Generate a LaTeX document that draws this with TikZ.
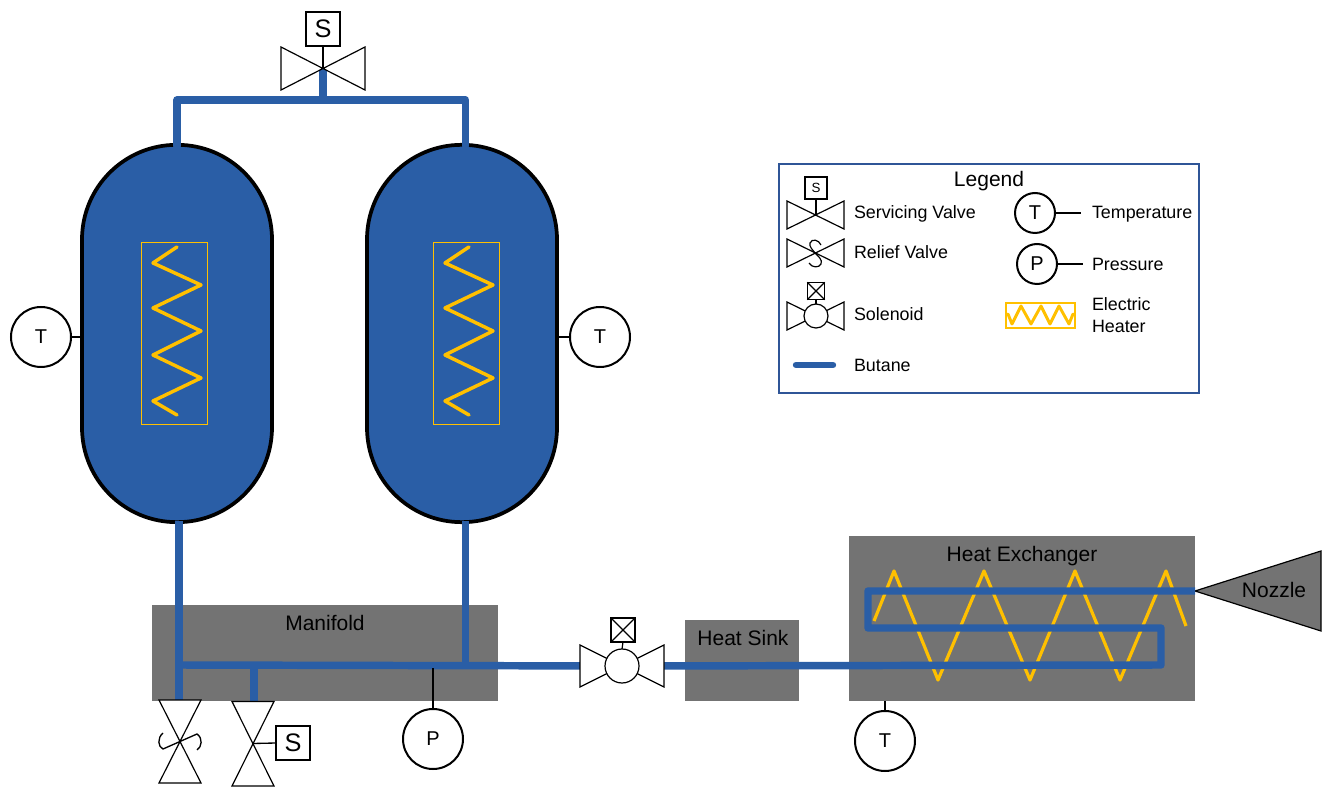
\documentclass[tikz,border=0pt]{standalone}
\usepackage{fontspec}
\setmainfont{Liberation Sans}
\usepackage{tikz}
\usetikzlibrary{arrows,shapes,positioning}
\definecolor{butane}{HTML}{2A5EA6}
\definecolor{metal}{HTML}{737373}
\definecolor{coil}{HTML}{FFC000}
\definecolor{frame}{HTML}{2F5597}

\begin{document}
\begin{tikzpicture}
	[x=0.75pt, y=-0.75pt,
	every node/.style={inner sep=0, outer sep=0},
	big/.style={font=\fontsize{15.75}{18}\selectfont},
	small/.style={font=\fontsize{13.4}{16}\selectfont, anchor=west},
	tank/.style={draw=black, line width=2.8pt, fill=butane, rounded corners=71pt, minimum width=142.5pt, minimum height=283pt},
	heater/.style={draw=coil, line width=0.75pt, minimum width=49.5pt, minimum height=136pt},
	zigzag/.style={draw=coil, line width=2.6pt, line cap=round, line join=round},
	block/.style={fill=metal},
	pipe/.style={draw=butane, line width=5.6pt, line join=round},
	sensor/.style={circle, draw, line width=1.5pt, fill=white, minimum size=45pt, font=\fontsize{15}{18}\selectfont},
	minisensor/.style={circle, draw, line width=1.5pt, fill=white, minimum size=30pt, font=\fontsize{15}{18}\selectfont},
	valve/.style={draw, line width=0.9pt, fill=white, line join=miter},
	sbox/.style={rectangle, draw, line width=0.9pt, fill=white, minimum size=25.5pt, font=\fontsize{19}{22}\selectfont},
	wire/.style={draw, line width=1pt},
	]
	\useasboundingbox (0,0) rectangle (1325,787);

	\node[block, minimum width=259.5pt, minimum height=72pt] (Manifold) at (325,653) {};
	\node[block, minimum width=85.5pt, minimum height=60.75pt] (Sink) at (742,660.5) {};
	\node[block, minimum width=259.5pt, minimum height=123.75pt] (Exchanger) at (1022,618.5) {};

	\node[tank] (Tank1) at (177,333.5) {};
	\node[tank] (Tank2) at (462,333.5) {};
	\node[heater] (Heater1) at (174,333.5) {};
	\node[heater] (Heater2) at (466,333.5) {};
	\draw[zigzag] (177,247) -- (153,263) -- (201,285) -- (153,308) -- (201,331) -- (153,355) -- (201,378) -- (153,401) -- (177,415);
	\draw[zigzag] (469,247) -- (445,263) -- (493,285) -- (445,308) -- (493,331) -- (445,355) -- (493,378) -- (445,401) -- (469,415);

	\draw[zigzag, line cap=butt, line width=2.4pt] (874,621) -- (894,571) -- (938,680) -- (984,571) -- (1030,680) -- (1075,571) -- (1120,680) -- (1166,571) -- (1186,626);

	\coordinate (Top1) at (177,146);
	\coordinate (Top2) at (465.5,146);
	\coordinate (Mid) at (323,100);
	\coordinate (Out1) at (179,521);
	\coordinate (Out2) at (465.5,521);
	\coordinate (Relief) at (179,700);
	\coordinate (Drain) at (254,702);
	\coordinate (Inlet) at (1195,591);
	\coordinate (Ret) at (465.5,665);

	\node[sbox] (S1) at (323,29) {S};
	\node[sbox] (S2) at (293,743) {S};
	\node[sbox, minimum size=18pt] (X1) at (623,630) {};
	\coordinate (V1) at (323,68);
	\coordinate (V2) at (180,741);
	\coordinate (V3) at (253,743.5);
	\coordinate (V4) at (622,666);

	\draw[pipe, line cap=round] (Top1) -- (177,100) -- (465.5,100) -- (Top2);
	\draw[pipe] (Mid) -- (V1);
	\draw[pipe] (Out1) -- (Relief);
	\draw[pipe] (Out2) -- (Ret);
	\draw[pipe] (179,665) -- (V4);
	\draw[pipe] (254,665) -- (Drain);
	\draw[draw=black, line width=0.9pt, fill=metal] (Inlet) -- (1321,551) -- (1321,631) -- cycle;
	\draw[pipe] (V4) -- (1161,665) -- (1161,628) -- (868,628) -- (868,591) -- (Inlet);

	\draw[valve] (281,47) -- (365,90) -- (365,47) -- (281,90) -- cycle;
	\draw[wire] (S1.south) -- (V1);
	\draw[valve] (159,700) -- (201,700) -- (159,783) -- (201,783) -- cycle;
	\draw[wire] (163,733) .. controls (157,738) and (158,747) .. (163,749) -- (197,734) .. controls (203,738) and (202,747) .. (197,750);
	\draw[valve] (232,701.5) -- (274,701.5) -- (232,786) -- (274,786) -- cycle;
	\draw[wire] (V3) -- (S2.west);
	\draw[valve] (580,645) -- (664,687) -- (664,645) -- (580,687) -- cycle;
	\node[minisensor, line width=0.9pt, minimum size=25.5pt] (Sol) at (V4) {};
	\draw[wire, line width=0.9pt] (X1.north west) -- (X1.south east) (X1.north east) -- (X1.south west);
	\draw[wire, line width=0.9pt] (X1.south) -- (Sol.north);

	\node[sensor] (T1) at (41,337) {T};
	\node[sensor] (T2) at (600,337) {T};
	\node[sensor] (T3) at (885,741) {T};
	\node[sensor] (P1) at (433,739) {P};
	\draw[wire] (T1.east) -- (T1.east -| Tank1.west);
	\draw[wire] (T2.west) -- (T2.west -| Tank2.east);
	\draw[wire] (T3.north) -- (T3.north |- Exchanger.south);
	\draw[wire, line width=1.5pt] (P1.north) -- (433,668);

	\node[big] (ManifoldText) at (325,623) {Manifold};
	\node[big] (SinkText) at (743,638) {Heat Sink};
	\node[big] (ExchangerText) at (1022,556) {Heat Exchanger};
	\node[big] (NozzleText) at (1274,590) {Nozzle};

	\node[draw=frame, line width=0.9pt, minimum width=315pt, minimum height=171.75pt] (Legend) at (989,278.5) {};
	\node[big] (LegendText) at (989,181) {Legend};

	\draw[valve] (787,201) -- (844,229) -- (844,201) -- (787,229) -- cycle;
	\node[sbox, minimum size=16.5pt, font=\fontsize{10}{12}\selectfont] (S3) at (816,188) {S};
	\draw[wire, line width=0.9pt] (S3.south) -- (816,215);
	\node[small] (ServText) at (854,214) {Servicing Valve};

	\draw[valve] (787,239) -- (844,267) -- (844,239) -- (787,267) -- cycle;
	\draw[wire, line width=0.9pt] (821,245) .. controls (819,240) and (812,238) .. (810,243) .. controls (809,247) and (813,250) .. (815,253) .. controls (818,256) and (823,260) .. (821,264) .. controls (819,268) and (812,268) .. (809,263);
	\node[small] (ReliefText) at (854,252) {Relief Valve};

	\draw[valve] (787,302) -- (844,330) -- (844,302) -- (787,330) -- cycle;
	\node[minisensor, line width=0.9pt, minimum size=18pt] (Sol2) at (816,316) {};
	\node[sbox, minimum size=13pt] (X2) at (816,291) {};
	\draw[wire, line width=0.9pt] (X2.north west) -- (X2.south east) (X2.north east) -- (X2.south west);
	\draw[wire, line width=0.9pt] (X2.south) -- (Sol2.north);
	\node[small] (SolText) at (854,314) {Solenoid};

	\coordinate (B1) at (796,365);
	\coordinate (B2) at (833,365);
	\draw[pipe, line cap=round, line width=4.8pt] (B1) -- (B2);
	\node[small] (ButaneText) at (854,365) {Butane};

	\node[minisensor] (T4) at (1035,213) {T};
	\coordinate (T4end) at (1081,213);
	\draw[wire, line width=1.5pt] (T4.east) -- (T4end);
	\node[small] (TempText) at (1092,214) {Temperature};

	\node[minisensor] (P2) at (1037,264) {P};
	\coordinate (P2end) at (1083,264);
	\draw[wire, line width=1.5pt] (P2.east) -- (P2end);
	\node[small] (PresText) at (1092,264) {Pressure};

	\node[draw=coil, line width=0.9pt, minimum width=51.75pt, minimum height=18.75pt] (Heater3) at (1040.5,315.5) {};
	\draw[zigzag, line width=2.2pt] (1008,314) -- (1012,324) -- (1021,306) -- (1031,324) -- (1041,306) -- (1050,324) -- (1059,306) -- (1069,324) -- (1073,314);
	\node[small] (HeatText1) at (1092,304) {Electric};
	\node[small] (HeatText2) at (1092,326) {Heater};
\end{tikzpicture}
\end{document}
